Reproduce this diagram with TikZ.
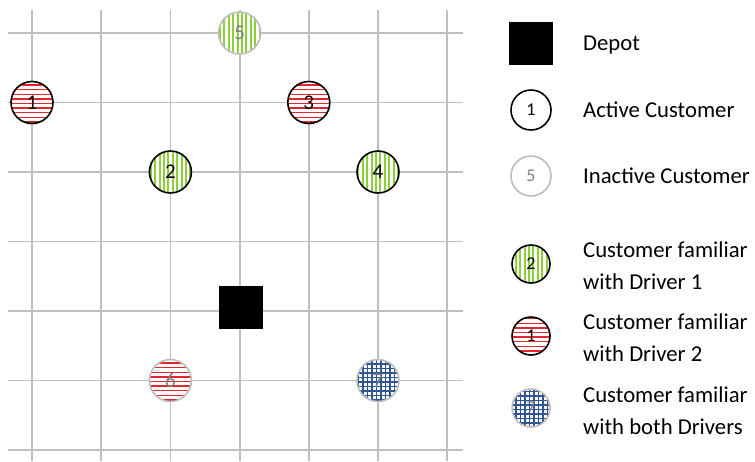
\documentclass[tikz,border=0pt]{standalone}
\usepackage{fontspec}
\setmainfont{Carlito}
\definecolor{gridgray}{HTML}{BFBFBF}
\definecolor{inactgray}{HTML}{BDBDBD}
\definecolor{numgray}{HTML}{7F7F7F}
\definecolor{stripegreen}{HTML}{8CD03C}
\definecolor{stripered}{HTML}{E3262B}
\definecolor{gridblue}{HTML}{2F5597}
\tikzset{
  gridline/.style={draw=gridgray, line width=1.8pt},
  cust/.style={circle, minimum size=42pt, inner sep=0pt, fill=white, draw=black, line width=1.6pt,
    font=\fontsize{21}{21}\selectfont},
  legcust/.style={cust, minimum size=40pt, font=\fontsize{18}{18}\selectfont},
  legpat/.style={cust, minimum size=38pt, font=\fontsize{18}{18}\selectfont},
  inactive/.style={draw=inactgray, text=numgray},
  greenstripes/.style={path picture={
    \foreach \i in {-24,-19.6,...,24}
      \draw[stripegreen, line width=2.1pt]
        ([xshift=\i pt]path picture bounding box.south) -- ([xshift=\i pt]path picture bounding box.north);}},
  redstripes/.style={path picture={
    \foreach \i in {-24,-19.4,...,24}
      \draw[stripered, line width=1.4pt]
        ([yshift=\i pt]path picture bounding box.west) -- ([yshift=\i pt]path picture bounding box.east);}},
  bluegrid/.style={path picture={
    \foreach \i in {-24,-19.5,...,24}{
      \draw[gridblue, line width=1.2pt]
        ([yshift=\i pt]path picture bounding box.west) -- ([yshift=\i pt]path picture bounding box.east);
      \draw[gridblue, line width=1.2pt]
        ([xshift=\i pt]path picture bounding box.south) -- ([xshift=\i pt]path picture bounding box.north);}}},
  depotbox/.style={fill=black, draw=black, minimum width=43pt, minimum height=42pt, inner sep=0pt},
  legtext/.style={anchor=west, align=left, font=\fontsize{22.7}{32}\selectfont, inner sep=0pt},
}
\begin{document}
\begin{tikzpicture}[x=1pt,y=-1pt]
\useasboundingbox (0,0) rectangle (755,461);
% grid
\foreach \x in {32,101.2,170.4,239.6,308.8,378,447.2}
  \draw[gridline] (\x,10) -- (\x,461);
\foreach \y in {33,102.5,172,241.5,311,380.5,450}
  \draw[gridline] (8,\y) -- (463,\y);
% customers
\node[cust, redstripes] (c1) at (32,102.5) {1};
\node[cust, greenstripes] (c2) at (170.4,172) {2};
\node[cust, redstripes] (c3) at (308.8,102.5) {3};
\node[cust, greenstripes] (c4) at (378,172) {4};
\node[cust, inactive, greenstripes] (c5) at (239.6,33) {5};
\node[cust, inactive, redstripes] (c6) at (170.4,380.5) {6};
\node[cust, inactive, bluegrid] (c7) at (378,380.5) {7};
\node[depotbox] (depot) at (240.5,307) {};
% legend
\node[depotbox] (ldepot) at (531,43) {};
\node[legtext] (tdepot) at (583,45) {Depot};
\node[legcust] (lact) at (531,110) {1};
\node[legtext] (tact) at (583,110) {Active Customer};
\node[legcust, inactive] (linact) at (531,176) {5};
\node[legtext] (tinact) at (583,176) {Inactive Customer};
\node[legpat, greenstripes] (lg) at (531,264) {2};
\node[legtext] (tg) at (583,266) {Customer familiar\\with Driver 1};
\node[legpat, redstripes] (lr) at (531,336) {1};
\node[legtext] (tr) at (583,338) {Customer familiar\\with Driver 2};
\node[legpat, inactive, bluegrid] (lb) at (531,408) {7};
\node[legtext] (tb) at (583,411) {Customer familiar\\with both Drivers};
\end{tikzpicture}
\end{document}
